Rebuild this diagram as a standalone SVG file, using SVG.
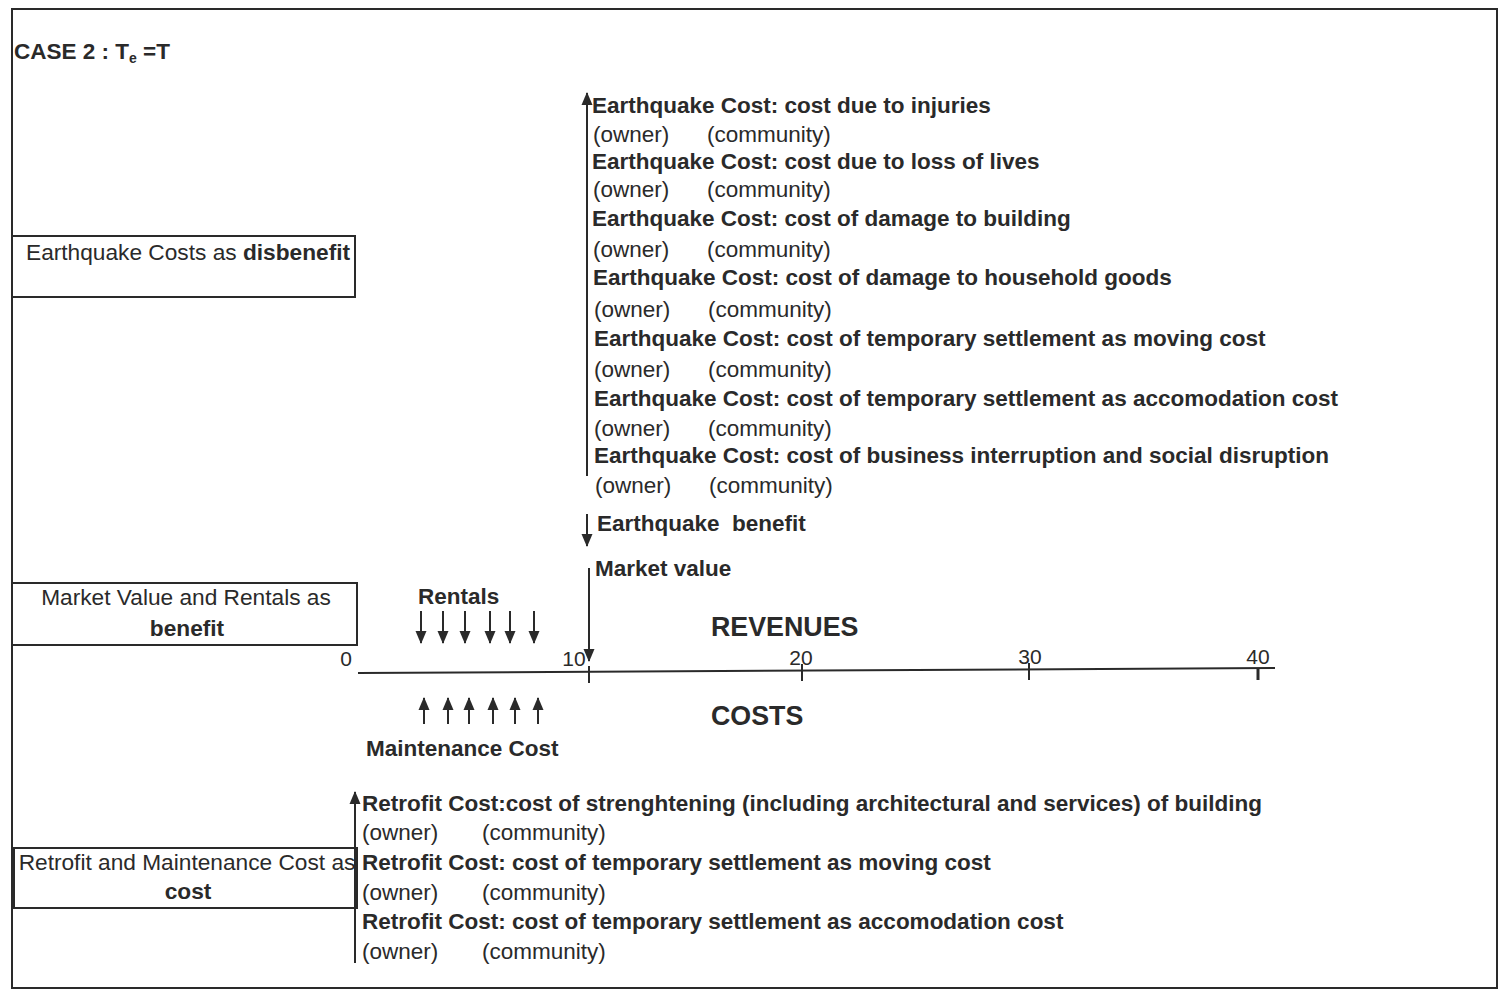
<svg xmlns="http://www.w3.org/2000/svg" width="1501" height="990" viewBox="0 0 1501 990">
<defs>
<style>
text{font-family:"Liberation Sans",Arial,sans-serif;fill:#2a2a2a;font-size:22.5px}
.b{font-weight:bold}
.bx{font-size:22.7px}
.ax{font-size:21px}
.big{font-size:26.8px;font-weight:bold}
.ln{stroke:#2a2a2a;stroke-width:2;fill:none}
.box{stroke:#2a2a2a;stroke-width:2;fill:none}
.arr{stroke:#2a2a2a;stroke-width:2;fill:none;marker-end:url(#ah)}
.pre{white-space:pre}
</style>
<marker id="ah" viewBox="0 0 13 12" refX="12" refY="6" markerWidth="13" markerHeight="12" markerUnits="userSpaceOnUse" orient="auto">
<path d="M0,0.5 L13,6 L0,11.5 Z" fill="#2a2a2a"/>
</marker>
</defs>
<rect width="1501" height="990" fill="#ffffff"/>
<rect id="frame" x="12" y="9" width="1485" height="979" class="box"/>

<g id="title"><text x="14" y="59" class="b">CASE 2 : T<tspan font-size="14" dy="4">e</tspan><tspan dy="-4"> =T</tspan></text></g>

<g id="box-disbenefit">
<rect x="12" y="236" width="343" height="61" class="box"/>
<text x="26" y="260" class="bx">Earthquake Costs as <tspan class="b">disbenefit</tspan></text>
</g>
<g id="box-benefit">
<rect x="12" y="583" width="345" height="62" class="box"/>
<text x="186" y="605" text-anchor="middle" class="bx">Market Value and Rentals as</text>
<text x="187" y="636" text-anchor="middle" class="b bx">benefit</text>
</g>
<g id="box-cost">
<rect x="14" y="848" width="343" height="60" class="box"/>
<text x="187" y="870" text-anchor="middle" class="bx">Retrofit and Maintenance Cost as</text>
<text x="188" y="899" text-anchor="middle" class="b bx">cost</text>
</g>

<g id="earthquake-costs">
<text x="592" y="113" class="b">Earthquake Cost: cost due to injuries</text>
<text x="593" y="142">(owner)</text><text x="707" y="142">(community)</text>
<text x="592" y="169" class="b">Earthquake Cost: cost due to loss of lives</text>
<text x="593" y="197">(owner)</text><text x="707" y="197">(community)</text>
<text x="592" y="226" class="b">Earthquake Cost: cost of damage to building</text>
<text x="593" y="257">(owner)</text><text x="707" y="257">(community)</text>
<text x="593" y="285" class="b">Earthquake Cost: cost of damage to household goods</text>
<text x="594" y="317">(owner)</text><text x="708" y="317">(community)</text>
<text x="594" y="346" class="b">Earthquake Cost: cost of temporary settlement as moving cost</text>
<text x="594" y="377">(owner)</text><text x="708" y="377">(community)</text>
<text x="594" y="406" class="b">Earthquake Cost: cost of temporary settlement as accomodation cost</text>
<text x="594" y="436">(owner)</text><text x="708" y="436">(community)</text>
<text x="594" y="463" class="b">Earthquake Cost: cost of business interruption and social disruption</text>
<text x="595" y="493">(owner)</text><text x="709" y="493">(community)</text>
</g>

<g id="earthquake-benefit"><text x="597" y="531" class="b pre">Earthquake  benefit</text></g>
<g id="market-value"><text x="595" y="576" class="b">Market value</text></g>
<g id="rentals"><text x="418" y="604" class="b">Rentals</text></g>
<g id="revenues"><text x="711" y="636" class="big">REVENUES</text></g>
<g id="costs"><text x="711" y="725" class="big">COSTS</text></g>
<g id="maintenance"><text x="366" y="756" class="b">Maintenance Cost</text></g>

<g id="axis">
<line x1="358" y1="673" x2="1275" y2="668" class="ln"/>
<line x1="589" y1="666" x2="589" y2="683" class="ln"/>
<line x1="802" y1="664" x2="802" y2="681" class="ln"/>
<line x1="1029" y1="663" x2="1029" y2="680" class="ln"/>
<line x1="1258" y1="668" x2="1258" y2="680" stroke="#2a2a2a" stroke-width="3"/>
<text x="346" y="666" class="ax" text-anchor="middle">0</text>
<text x="574" y="666" class="ax" text-anchor="middle">10</text>
<text x="801" y="665" class="ax" text-anchor="middle">20</text>
<text x="1030" y="664" class="ax" text-anchor="middle">30</text>
<text x="1258" y="664" class="ax" text-anchor="middle">40</text>
</g>

<g id="retrofit-costs">
<text x="362" y="811" class="b">Retrofit Cost:cost of strenghtening (including architectural and services) of building</text>
<text x="362" y="840">(owner)</text><text x="482" y="840">(community)</text>
<text x="362" y="870" class="b">Retrofit Cost: cost of temporary settlement as moving cost</text>
<text x="362" y="900">(owner)</text><text x="482" y="900">(community)</text>
<text x="362" y="929" class="b">Retrofit Cost: cost of temporary settlement as accomodation cost</text>
<text x="362" y="959">(owner)</text><text x="482" y="959">(community)</text>
</g>

<g id="connectors">
<line x1="587" y1="476" x2="587" y2="93" class="arr"/>
<line x1="587" y1="514" x2="587" y2="546" class="arr"/>
<line x1="589" y1="568" x2="589" y2="661" class="arr"/>
<line x1="421" y1="611" x2="421" y2="643" class="arr"/>
<line x1="443" y1="611" x2="443" y2="643" class="arr"/>
<line x1="465" y1="611" x2="465" y2="643" class="arr"/>
<line x1="490" y1="611" x2="490" y2="643" class="arr"/>
<line x1="510" y1="611" x2="510" y2="643" class="arr"/>
<line x1="534" y1="611" x2="534" y2="643" class="arr"/>
<line x1="424" y1="724" x2="424" y2="698" class="arr"/>
<line x1="448" y1="724" x2="448" y2="698" class="arr"/>
<line x1="469" y1="724" x2="469" y2="698" class="arr"/>
<line x1="493" y1="724" x2="493" y2="698" class="arr"/>
<line x1="515" y1="724" x2="515" y2="698" class="arr"/>
<line x1="538" y1="724" x2="538" y2="698" class="arr"/>
<line x1="355" y1="963" x2="355" y2="792" class="arr"/>
</g>
</svg>
